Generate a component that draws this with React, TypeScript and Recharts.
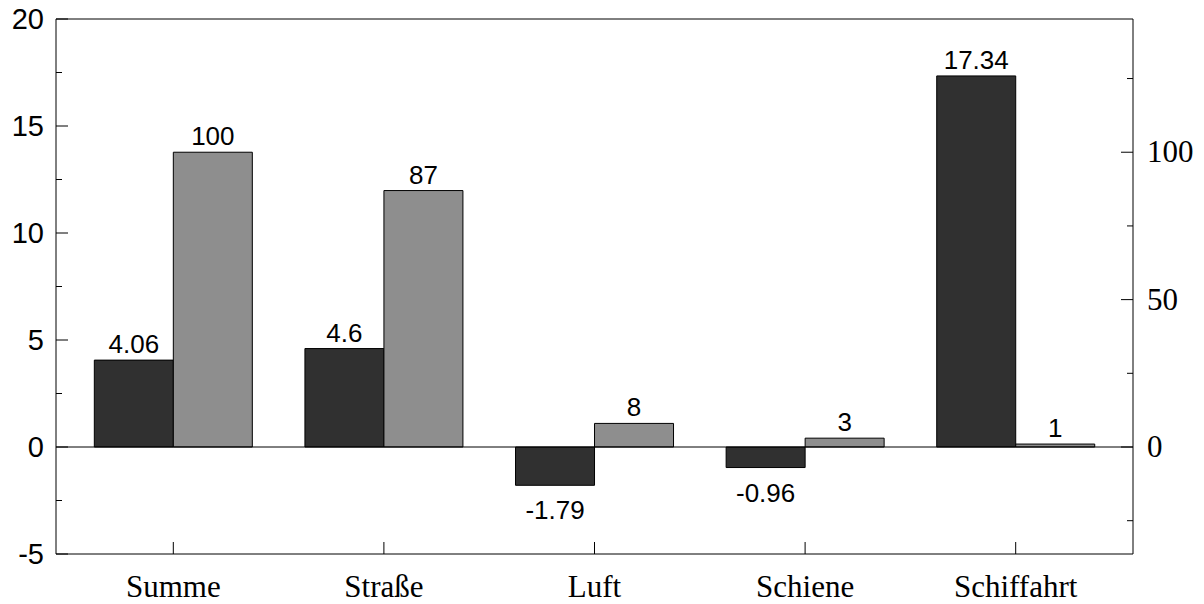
import { BarChart, Bar, XAxis, YAxis, ReferenceLine, LabelList } from "recharts";

// Categories and series values
const categories = ["Summe", "Straße", "Luft", "Schiene", "Schiffahrt"];
const changeValues = [4.06, 4.6, -1.79, -0.96, 17.34];
const shareValues = [100, 87, 8, 3, 1];

const leftTicks = [-5, -2.5, 0, 2.5, 5, 7.5, 10, 12.5, 15, 17.5, 20];
const rightTicks = [-25, 0, 25, 50, 75, 100, 125];

const SANS = "'Liberation Sans', Arial, sans-serif";
const SERIF = "'Liberation Serif', 'Times New Roman', serif";

const chartData = categories.map((name, i) => ({
  name,
  change: changeValues[i],
  share: shareValues[i],
}));

const LeftTick = (props: any) => {
  const { x, y, payload } = props;
  const major = payload.value % 5 === 0;
  return (
    <g>
      <line x1={x} x2={x + (major ? 12 : 6)} y1={y} y2={y} stroke="#000" />
      {major && (
        <text x={x - 12} y={y} dy={10} textAnchor="end" fontFamily={SANS} fontSize={29} fill="#000">
          {payload.value}
        </text>
      )}
    </g>
  );
};

const RightTick = (props: any) => {
  const { x, y, payload } = props;
  const major = payload.value % 50 === 0;
  return (
    <g>
      <line x1={x} x2={x - (major ? 12 : 6)} y1={y} y2={y} stroke="#000" />
      {major && (
        <text x={x + 14} y={y} dy={10} textAnchor="start" fontFamily={SERIF} fontSize={31} fill="#000">
          {payload.value}
        </text>
      )}
    </g>
  );
};

const BottomTick = (props: any) => {
  const { x, y, payload } = props;
  return (
    <g>
      <line x1={x} x2={x} y1={y} y2={y - 12} stroke="#000" />
      <text x={x} y={y + 43} textAnchor="middle" fontFamily={SERIF} fontSize={31} fill="#000">
        {payload.value}
      </text>
    </g>
  );
};

const BarValue = (props: any) => {
  const { x, y, width, height, value } = props;
  const top = Math.min(y, y + height);
  const bottom = Math.max(y, y + height);
  const cx = x + width / 2;
  const ty = value < 0 ? bottom + 34 : top - 7;
  return (
    <text x={cx} y={ty} textAnchor="middle" fontFamily={SANS} fontSize={26} fill="#000">
      {value}
    </text>
  );
};

export default function App() {
  return (
    <div style={{ position: "absolute", left: 0, top: 0 }}>
      <BarChart
        width={1204}
        height={604}
        data={chartData}
        margin={{ top: 19, right: 0, bottom: 0, left: 0 }}
        barCategoryGap="12.5%"
        barGap={0}
      >
        <XAxis
          dataKey="name"
          padding={{ left: 12, right: 12 }}
          height={50}
          tickSize={0}
          tickMargin={0}
          tickLine={false}
          axisLine={{ stroke: "#000" }}
          interval={0}
          tick={<BottomTick />}
        />
        <YAxis
          yAxisId="left"
          domain={[-5, 20]}
          ticks={leftTicks}
          allowDataOverflow
          width={56}
          tickSize={0}
          tickMargin={0}
          tickLine={false}
          axisLine={{ stroke: "#000" }}
          interval={0}
          tick={<LeftTick />}
        />
        <YAxis
          yAxisId="right"
          orientation="right"
          domain={[-36.3, 145.2]}
          ticks={rightTicks}
          allowDataOverflow
          width={71}
          tickSize={0}
          tickMargin={0}
          tickLine={false}
          axisLine={{ stroke: "#000" }}
          interval={0}
          tick={<RightTick />}
        />
        <ReferenceLine yAxisId="left" y={20} stroke="#000" />
        <Bar yAxisId="left" dataKey="change" fill="#303030" stroke="#000" strokeWidth={1} isAnimationActive={false}>
          <LabelList dataKey="change" content={<BarValue />} />
        </Bar>
        <Bar yAxisId="right" dataKey="share" fill="#8e8e8e" stroke="#000" strokeWidth={1} isAnimationActive={false}>
          <LabelList dataKey="share" content={<BarValue />} />
        </Bar>
        <ReferenceLine yAxisId="left" y={0} stroke="#000" />
      </BarChart>
    </div>
  );
}
